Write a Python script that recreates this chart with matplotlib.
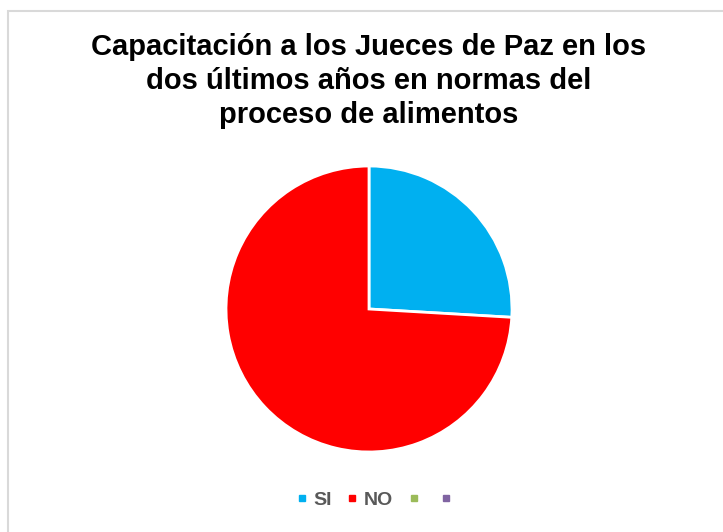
import matplotlib.pyplot as plt
from matplotlib.patches import Rectangle
from matplotlib.lines import Line2D

plt.rcParams["font.family"] = ["Liberation Sans", "DejaVu Sans"]

# data
labels = ["SI", "NO", "", ""]
values = [7, 20, 0, 0]
colors = ["#00B0F0", "#FF0000", "#9BBB59", "#8064A2"]

title = "Capacitación a los Jueces de Paz en los\ndos últimos años en normas del\nproceso de alimentos"

fig = plt.figure(figsize=(7.23, 5.32), dpi=100)

# chart border (runs off the right and bottom edge)
fig.patches.append(Rectangle((7.5 / 723, -0.05), 1.2, 1 - 10.5 / 532 + 0.05,
                             transform=fig.transFigure, fill=False,
                             edgecolor="#D9D9D9", linewidth=1.5))

fig.text(369 / 723, 1 - 33 / 532, title, ha="center", va="top",
         fontsize=21, fontweight="bold", color="#000000", linespacing=1.28)

r = 143
ax = fig.add_axes([(369 - r) / 723, 1 - (309 + r) / 532, 2 * r / 723, 2 * r / 532])
ax.pie(values[:2], colors=colors[:2], startangle=90, counterclock=False,
       wedgeprops=dict(edgecolor="white", linewidth=2))
ax.set_aspect("equal")
ax.set_xlim(-1, 1)
ax.set_ylim(-1, 1)

handles = [Line2D([], [], marker="s", linestyle="none", markersize=5,
                  markerfacecolor=c, markeredgecolor=c) for c in colors]
leg = fig.legend(handles, labels, loc="center", bbox_to_anchor=(377 / 723, 1 - 500 / 532),
                 ncol=4, frameon=False, handletextpad=0.35, columnspacing=0.8,
                 prop=dict(size=14, weight="bold"), handlelength=0.5)
for t in leg.get_texts():
    t.set_color("#595959")

fig.savefig("out.png", dpi=100)
